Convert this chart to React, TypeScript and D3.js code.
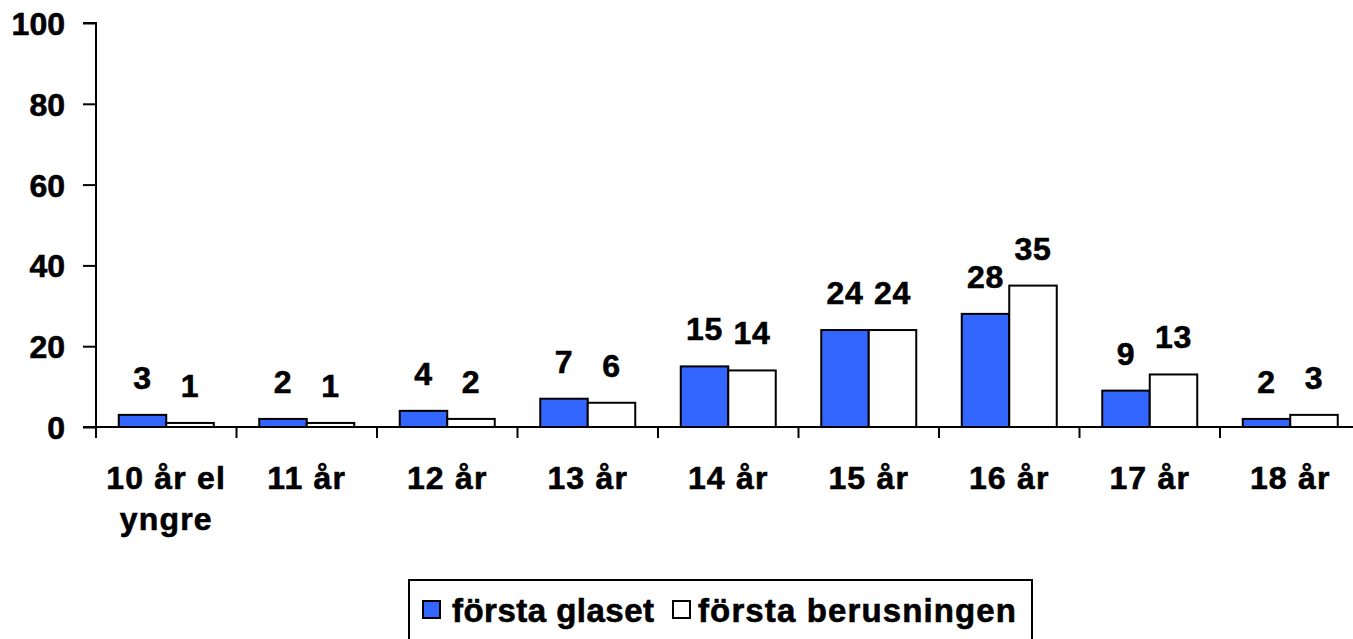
import React, { useEffect, useRef } from "react";
import { select, scaleBand, scaleLinear, axisLeft } from "d3";

const categories = [
  "10 år el|yngre",
  "11 år",
  "12 år",
  "13 år",
  "14 år",
  "15 år",
  "16 år",
  "17 år",
  "18 år",
];
const forstaGlaset = [3, 2, 4, 7, 15, 24, 28, 9, 2];
const forstaBerusningen = [1, 1, 2, 6, 14, 24, 35, 13, 3];
const seriesNames = ["första glaset", "första berusningen"];
const seriesColors = ["#3366ff", "#ffffff"];
const yTicks = [0, 20, 40, 60, 80, 100];

const WIDTH = 1353;
const HEIGHT = 639;
const FONT = "'Liberation Sans', Arial, sans-serif";

function App() {
  const svgRef = useRef(null);

  useEffect(() => {
    const svg = select(svgRef.current);
    svg.selectAll("*").remove();

    const left = 96;
    const step = 140.5;
    const xScale = scaleBand()
      .domain(categories)
      .range([left, left + step * categories.length])
      .padding(0);
    const yScale = scaleLinear().domain([0, 100]).range([427, 23]);

    const inner = scaleBand()
      .domain(seriesNames)
      .range([0, 95]);
    const groupOffset = (xScale.bandwidth() - 95) / 2;

    const data = categories.map((c, i) => ({
      cat: c,
      values: [forstaGlaset[i], forstaBerusningen[i]],
    }));

    // bars
    const groups = svg
      .selectAll(".group")
      .data(data)
      .join("g")
      .attr("class", "group")
      .attr("transform", (d) => `translate(${xScale(d.cat) + groupOffset},0)`);

    groups
      .selectAll("rect")
      .data((d) => d.values.map((v, k) => ({ v, k })))
      .join("rect")
      .attr("x", (d) => inner(seriesNames[d.k]))
      .attr("width", inner.bandwidth())
      .attr("y", (d) => yScale(d.v))
      .attr("height", (d) => yScale(0) - yScale(d.v))
      .attr("fill", (d) => seriesColors[d.k])
      .attr("stroke", "#000")
      .attr("stroke-width", 2);

    // value labels
    groups
      .selectAll(".val")
      .data((d) => d.values.map((v, k) => ({ v, k })))
      .join("text")
      .attr("class", "val")
      .attr("x", (d) => inner(seriesNames[d.k]) + inner.bandwidth() / 2)
      .attr("y", (d) => yScale(d.v) - 26)
      .attr("text-anchor", "middle")
      .attr("font-family", FONT)
      .attr("font-weight", "bold")
      .attr("font-size", 32)
      .attr("letter-spacing", 0.6)
      .attr("stroke", "#000")
      .attr("stroke-width", 0.6)
      .text((d) => d.v);

    // y axis
    const yAxis = axisLeft(yScale).tickValues(yTicks).tickSize(13).tickPadding(18);
    const gy = svg
      .append("g")
      .attr("transform", `translate(${left},0)`)
      .call(yAxis);
    gy.select(".domain").attr("stroke", "#000").attr("stroke-width", 2).attr("d", `M-13,23H0V427`);
    gy.selectAll(".tick line").attr("stroke", "#000").attr("stroke-width", 2);
    gy.selectAll(".tick text")
      .attr("font-family", FONT)
      .attr("font-weight", "bold")
      .attr("font-size", 32)
      .attr("fill", "#000")
      .attr("stroke", "#000")
      .attr("stroke-width", 0.6)
      .attr("dy", "0.36em");

    // x axis line and boundary ticks
    const y0 = yScale(0);
    svg
      .append("line")
      .attr("x1", left - 13)
      .attr("x2", WIDTH + 10)
      .attr("y1", y0)
      .attr("y2", y0)
      .attr("stroke", "#000")
      .attr("stroke-width", 2);

    svg
      .selectAll(".xtick")
      .data(categories)
      .join("line")
      .attr("class", "xtick")
      .attr("x1", (d) => xScale(d))
      .attr("x2", (d) => xScale(d))
      .attr("y1", y0)
      .attr("y2", y0 + 11)
      .attr("stroke", "#000")
      .attr("stroke-width", 2);

    // category labels
    const xl = svg
      .selectAll(".xlabel")
      .data(categories)
      .join("text")
      .attr("class", "xlabel")
      .attr("text-anchor", "middle")
      .attr("font-family", FONT)
      .attr("font-weight", "bold")
      .attr("font-size", 32)
      .attr("letter-spacing", 1.2)
      .attr("stroke", "#000")
      .attr("stroke-width", 0.6);
    xl.selectAll("tspan")
      .data((d) => d.split("|").map((t) => ({ t, x: xScale(d) + xScale.bandwidth() / 2 })))
      .join("tspan")
      .attr("x", (d) => d.x)
      .attr("y", (d, i) => 489 + i * 41)
      .text((d) => d.t);

    // legend
    const lg = svg.append("g");
    lg.append("rect")
      .attr("x", 409)
      .attr("y", 580)
      .attr("width", 623)
      .attr("height", 75)
      .attr("fill", "#fff")
      .attr("stroke", "#000")
      .attr("stroke-width", 2);
    const legendItems = [
      { sx: 423, tx: 452, len: 202 },
      { sx: 673, tx: 698, len: 318 },
    ];
    seriesNames.forEach((name, k) => {
      lg.append("rect")
        .attr("x", legendItems[k].sx)
        .attr("y", 601)
        .attr("width", 17)
        .attr("height", 17)
        .attr("fill", seriesColors[k])
        .attr("stroke", "#000")
        .attr("stroke-width", 2);
      lg.append("text")
        .attr("x", legendItems[k].tx)
        .attr("y", 622)
        .attr("font-family", FONT)
        .attr("font-weight", "bold")
        .attr("font-size", 33)
        .attr("textLength", legendItems[k].len)
        .attr("lengthAdjust", "spacing")
        .attr("stroke", "#000")
        .attr("stroke-width", 0.6)
        .text(name);
    });
  }, []);

  return (
    <svg
      ref={svgRef}
      width={WIDTH}
      height={HEIGHT}
      style={{ position: "absolute", left: 0, top: 0, background: "#fff" }}
    />
  );
}

export default App;
